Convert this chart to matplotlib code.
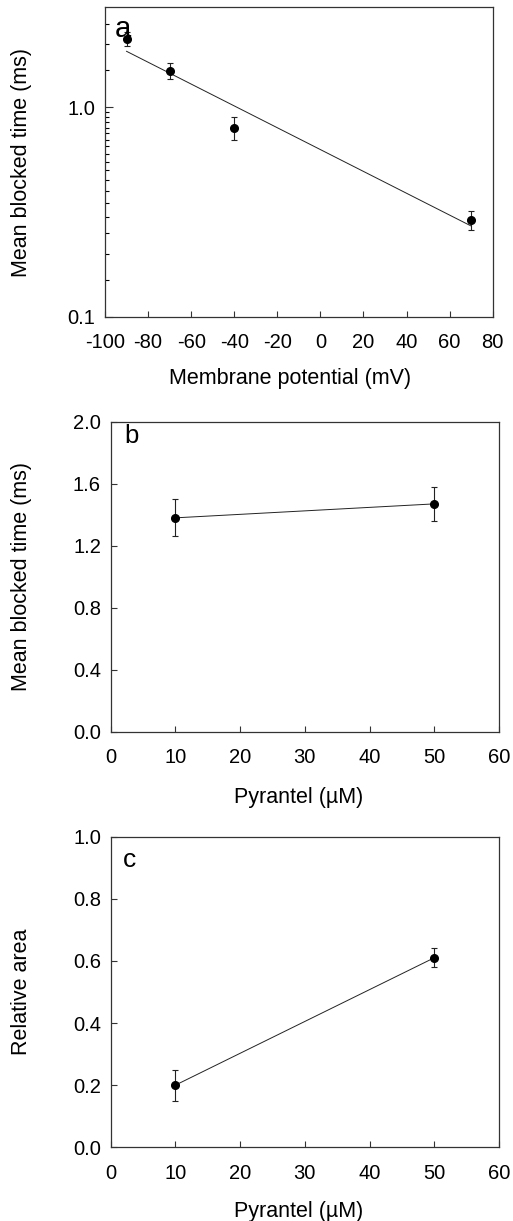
import numpy as np
import matplotlib
matplotlib.use('Agg')
import matplotlib.pyplot as plt
from matplotlib.ticker import FixedLocator, NullFormatter, FormatStrFormatter

plt.rcParams['font.family'] = ['Liberation Sans', 'DejaVu Sans']
plt.rcParams['font.size'] = 14
plt.rcParams['axes.unicode_minus'] = False

# ---- panel a: blocked time vs membrane potential ----
voltage = [-90, -70, -40, 70]
blocked_a = [2.12, 1.49, 0.80, 0.29]
err_a_lo = [0.16, 0.12, 0.10, 0.03]
err_a_hi = [0.17, 0.13, 0.10, 0.03]
fit_v = [-90, 70]
fit_t = [1.85, 0.271]

# ---- panel b: blocked time vs pyrantel ----
pyrantel = [10, 50]
blocked_b = [1.38, 1.47]
err_b = [0.12, 0.11]

# ---- panel c: relative area vs pyrantel ----
rel_area = [0.20, 0.61]
err_c = [0.05, 0.03]

fig = plt.figure(figsize=(5.13, 12.21), dpi=100)

ax_a = fig.add_axes([0.2047, 0.7406, 0.7558, 0.2534])
ax_b = fig.add_axes([0.2158, 0.4007, 0.7569, 0.2539])
ax_c = fig.add_axes([0.2158, 0.0604, 0.7569, 0.2544])

err_style = dict(fmt='o', color='black', markersize=5.5, ecolor='#222222',
                 elinewidth=0.8, capsize=2.5, capthick=0.8, zorder=3)

# panel a
ax_a.errorbar(voltage, blocked_a, yerr=[err_a_lo, err_a_hi], **err_style)
ax_a.plot(fit_v, fit_t, color='#222222', lw=0.7)
ax_a.set_yscale('log')
ax_a.set_xlim(-100, 80)
ax_a.set_ylim(0.1, 3.0)
ax_a.set_xticks(np.arange(-100, 81, 20))
ax_a.yaxis.set_major_locator(FixedLocator([0.1, 1.0]))
ax_a.set_yticklabels(['0.1', '1.0'])
minor = list(np.arange(0.15, 0.96, 0.05)) + [1.5, 2.0, 2.5]
ax_a.yaxis.set_minor_locator(FixedLocator(minor))
ax_a.yaxis.set_minor_formatter(NullFormatter())
ax_a.tick_params(axis='y', which='major', length=6)
ax_a.tick_params(axis='y', which='minor', length=3, direction='in', width=0.8)
ax_a.set_xlabel('Membrane potential (mV)', fontsize=15.5)
ax_a.set_ylabel('Mean blocked time (ms)', fontsize=15.5)
ax_a.text(0.024, 0.905, 'a', transform=ax_a.transAxes, fontsize=21)

# panel b
ax_b.errorbar(pyrantel, blocked_b, yerr=err_b, **err_style)
ax_b.plot(pyrantel, blocked_b, color='#222222', lw=0.7)
ax_b.set_xlim(0, 60)
ax_b.set_ylim(0, 2.0)
ax_b.set_xticks(np.arange(0, 61, 10))
ax_b.set_yticks(np.arange(0, 2.01, 0.4))
ax_b.yaxis.set_major_formatter(FormatStrFormatter('%.1f'))
ax_b.set_xlabel('Pyrantel (\u00b5M)', fontsize=15.5)
ax_b.set_ylabel('Mean blocked time (ms)', fontsize=15.5)
ax_b.text(0.034, 0.931, 'b', transform=ax_b.transAxes, fontsize=18.5)

# panel c
ax_c.errorbar(pyrantel, rel_area, yerr=err_c, **err_style)
ax_c.plot(pyrantel, rel_area, color='#222222', lw=0.7)
ax_c.set_xlim(0, 60)
ax_c.set_ylim(0, 1.0)
ax_c.set_xticks(np.arange(0, 61, 10))
ax_c.set_yticks(np.arange(0, 1.01, 0.2))
ax_c.yaxis.set_major_formatter(FormatStrFormatter('%.1f'))
ax_c.set_xlabel('Pyrantel (\u00b5M)', fontsize=15.5)
ax_c.set_ylabel('Relative area', fontsize=15.5)
ax_c.text(0.032, 0.902, 'c', transform=ax_c.transAxes, fontsize=19)

for ax in (ax_a, ax_b, ax_c):
    for sp in ax.spines.values():
        sp.set_linewidth(0.9)
        sp.set_color('#333333')
    ax.tick_params(which='major', direction='in', width=0.8, labelsize=14.5,
                   color='#333333')
    ax.tick_params(axis='x', which='major', length=4, pad=12)
    ax.tick_params(axis='y', which='major', pad=7)
    ax.tick_params(axis='x', which='minor', bottom=False)

ax_b.tick_params(axis='y', which='major', length=4)
ax_c.tick_params(axis='y', which='major', length=4)

ax_a.xaxis.set_label_coords(0.477, -0.166)
ax_b.xaxis.set_label_coords(0.485, -0.177)
ax_c.xaxis.set_label_coords(0.485, -0.172)
for ax in (ax_a, ax_b, ax_c):
    ax.xaxis.label.set_va('top')
ax_a.yaxis.set_label_coords(-0.188, 0.5)
ax_b.yaxis.set_label_coords(-0.203, 0.5)
ax_c.yaxis.set_label_coords(-0.203, 0.5)

fig.savefig('out.png', dpi=100, facecolor='white')
